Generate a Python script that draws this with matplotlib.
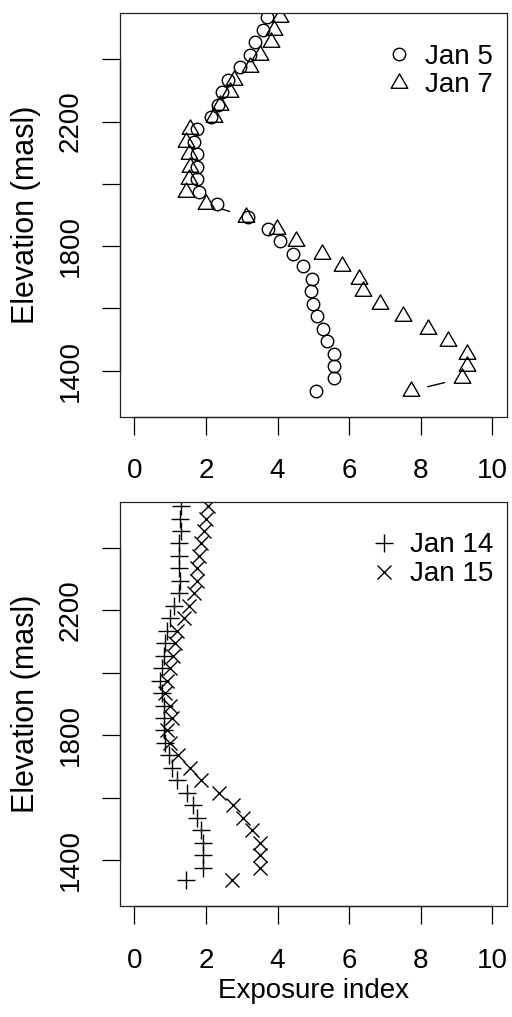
import numpy as np
import matplotlib
matplotlib.use("Agg")
import matplotlib.pyplot as plt
from matplotlib.path import Path

plt.rcParams['font.family'] = ['Liberation Sans', 'DejaVu Sans']

# Elevation bands (masl), top to bottom
elevation = [2535, 2495, 2455, 2415, 2375, 2335, 2295, 2255, 2215, 2175,
             2135, 2095, 2055, 2015, 1975, 1935, 1895, 1855, 1815, 1775,
             1735, 1695, 1655, 1615, 1575, 1535, 1495, 1455, 1415, 1375, 1335]

jan5 = [3.70, 3.58, 3.38, 3.22, 2.94, 2.61, 2.45, 2.33, 2.15, 1.75,
        1.68, 1.74, 1.75, 1.74, 1.80, 2.31, 3.18, 3.73, 4.06, 4.42,
        4.71, 4.96, 4.93, 4.99, 5.10, 5.26, 5.39, 5.58, 5.59, 5.59, 5.08]
jan7 = [4.07, 3.89, 3.81, 3.52, 3.24, 2.77, 2.68, 2.40, 2.22, 1.55,
        1.43, 1.52, 1.55, 1.52, 1.43, 1.99, 3.13, 3.98, 4.51, 5.24,
        5.79, 6.27, 6.40, 6.86, 7.51, 8.19, 8.76, 9.28, 9.29, 9.14, 7.72]
jan14 = [1.29, 1.27, 1.29, 1.24, 1.24, 1.24, 1.27, 1.24, 1.10, 1.01,
         0.92, 0.87, 0.83, 0.78, 0.73, 0.78, 0.83, 0.83, 0.83, 0.87,
         0.96, 1.06, 1.20, 1.46, 1.64, 1.74, 1.85, 1.92, 1.92, 1.92, 1.43]
jan15 = [2.05, 1.99, 1.94, 1.85, 1.80, 1.75, 1.75, 1.68, 1.52, 1.38,
         1.20, 1.15, 1.09, 1.01, 0.92, 0.87, 1.01, 1.06, 0.92, 1.01,
         1.22, 1.55, 1.87, 2.36, 2.76, 3.04, 3.29, 3.52, 3.50, 3.50, 2.73]

x_ticks = [0, 2, 4, 6, 8, 10]
y_ticks = [1400, 1600, 1800, 2000, 2200, 2400]
y_ticklabels = ['1400', '', '1800', '', '2200', '']

FS = 20
FS_YLAB = 22
DPI = 100
W, H = 512, 1017

# R-style upward triangle, centred on its centroid
tri = Path([(0, 1), (-0.866, -0.5), (0.866, -0.5), (0, 1)],
           [Path.MOVETO, Path.LINETO, Path.LINETO, Path.CLOSEPOLY])

styles = {
    'Jan 5': dict(marker='o', ms=9.0),
    'Jan 7': dict(marker=tri, ms=13.8),
    'Jan 14': dict(marker='+', ms=13.3),
    'Jan 15': dict(marker='x', ms=9.5),
}

fig = plt.figure(figsize=(W / DPI, H / DPI), dpi=DPI)


def px_axes(left, top, right, bottom):
    return fig.add_axes([left / W, 1 - bottom / H, (right - left) / W, (bottom - top) / H])


def gapped_lines(ax, xs, ys, gap_px=17.0):
    """Connect points like R's type='b': segments shortened near each point."""
    fig.canvas.draw()
    pts = ax.transData.transform(np.column_stack([xs, ys]))
    inv = ax.transData.inverted()
    for (x0, y0), (x1, y1) in zip(pts[:-1], pts[1:]):
        d = np.hypot(x1 - x0, y1 - y0)
        if d <= 2 * gap_px:
            continue
        f = gap_px / d
        a = (x0 + (x1 - x0) * f, y0 + (y1 - y0) * f)
        b = (x1 - (x1 - x0) * f, y1 - (y1 - y0) * f)
        seg = inv.transform([a, b])
        ax.plot(seg[:, 0], seg[:, 1], color='black', lw=1.0, solid_capstyle='butt')


def setup(ax, show_xlabel):
    ax.set_xlim(-0.4, 10.4)
    ax.set_ylim(1252, 2548)
    ax.set_xticks(x_ticks)
    ax.set_xticklabels([str(v) for v in x_ticks])
    ax.set_yticks(y_ticks)
    ax.set_yticklabels(y_ticklabels, rotation=90, va='center')
    ax.tick_params(direction='out', length=13, width=0.9, labelsize=FS, colors='black')
    ax.tick_params(axis='x', pad=17)
    ax.tick_params(axis='y', pad=13)
    for sp in ax.spines.values():
        sp.set_linewidth(0.9)
        sp.set_color('#222222')
    # axis lines spanning the tick range
    ax.plot([0, 10], [0, 0], transform=ax.get_xaxis_transform(), color='black',
            lw=0.9, clip_on=False)
    ax.plot([0, 0], [1400, 2400], transform=ax.get_yaxis_transform(), color='black',
            lw=0.9, clip_on=False)
    ax.set_ylabel('Elevation (masl)', fontsize=FS_YLAB)
    ax.yaxis.set_label_coords(-0.2033, 0.5)
    if show_xlabel:
        ax.set_xlabel('Exposure index', fontsize=FS)


ax1 = px_axes(120, 13.3, 506.7, 416.7)
ax2 = px_axes(120, 502, 506.7, 906)
setup(ax1, False)
setup(ax2, True)
ax2.xaxis.set_label_coords(0.5, -0.178)

for ax, series in ((ax1, (('Jan 5', jan5), ('Jan 7', jan7))),
                   (ax2, (('Jan 14', jan14), ('Jan 15', jan15)))):
    for name, vals in series:
        st = styles[name]
        ax.plot(vals, elevation, linestyle='none', marker=st['marker'], ms=st['ms'],
                mfc='none', mec='black', mew=1.0, label=name)
    for name, vals in series:
        gapped_lines(ax, vals, elevation)
    ax.legend(loc='upper right', bbox_to_anchor=(0.9646, 0.9246), frameon=False,
              fontsize=FS, borderpad=0, borderaxespad=0, handlelength=0.6,
              handletextpad=0.63, labelspacing=0.1, numpoints=1)

fig.savefig('out.png', dpi=DPI)
